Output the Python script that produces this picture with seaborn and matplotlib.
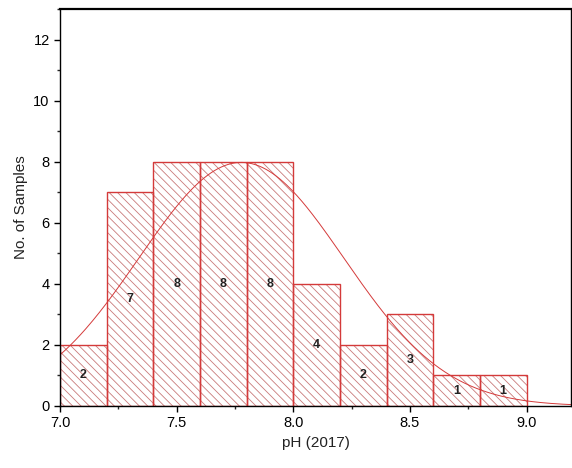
import numpy as np
import pandas as pd
import matplotlib
matplotlib.use("Agg")
import matplotlib.pyplot as plt
import seaborn as sns
from matplotlib.ticker import MultipleLocator

bin_edges = [7.0, 7.2, 7.4, 7.6, 7.8, 8.0, 8.2, 8.4, 8.6, 8.8, 9.0]
counts = [2, 7, 8, 8, 8, 4, 2, 3, 1, 1]
fit_sd = 0.44
x_label = "pH (2017)"
y_label = "No. of Samples"

sns.set_theme(style="white")
plt.rcParams['font.family'] = ['Liberation Sans', 'DejaVu Sans']
plt.rcParams['hatch.linewidth'] = 0.6

red = "#d43a3a"
hatch_col = "#c97a7a"

fig = plt.figure(figsize=(5.72, 4.68), dpi=100)
ax = fig.add_axes([0.105, 0.1325, 0.893, 0.848])

mids = [(bin_edges[i] + bin_edges[i + 1]) / 2 for i in range(len(counts))]
df = pd.DataFrame({"mid": mids, "count": counts})
# hatch layer
sns.histplot(data=df, x="mid", weights="count", bins=bin_edges, ax=ax,
             stat="count", fill=True, color="white", edgecolor=hatch_col,
             linewidth=0, alpha=1)
for p in ax.patches:
    p.set_hatch('\\\\\\\\')
    p.set_facecolor("white")
    p.set_edgecolor(hatch_col)
    p.set_linewidth(0)
# outline layer
n0 = len(ax.patches)
sns.histplot(data=df, x="mid", weights="count", bins=bin_edges, ax=ax,
             stat="count", fill=False, edgecolor=red, linewidth=1.0)
for p in ax.patches[n0:]:
    p.set_edgecolor(red)
    p.set_facecolor("none")

# normal fit from binned data
w = np.array(counts, dtype=float)
m = np.array(mids)
n = w.sum()
mu = (w * m).sum() / n
bw = bin_edges[1] - bin_edges[0]
xs = np.linspace(7.0, 9.2, 300)
ys = n * bw / (fit_sd * np.sqrt(2 * np.pi)) * np.exp(-(xs - mu) ** 2 / (2 * fit_sd ** 2))
sns.lineplot(x=xs, y=ys, ax=ax, color=red, linewidth=0.7)

for xm, c in zip(mids, counts):
    ax.text(xm, c / 2, str(c), ha="center", va="center", fontsize=9,
            fontweight="bold", color="#222222")

ax.set_xlim(7.0, 9.19)
ax.set_ylim(0, 13)
ax.xaxis.set_major_locator(MultipleLocator(0.5))
ax.xaxis.set_minor_locator(MultipleLocator(0.25))
ax.yaxis.set_major_locator(MultipleLocator(2))
ax.yaxis.set_minor_locator(MultipleLocator(1))
ax.set_xticks([7.0, 7.5, 8.0, 8.5, 9.0])
ax.set_xticklabels(["7.0", "7.5", "8.0", "8.5", "9.0"])
ax.tick_params(axis="both", which="major", direction="out", length=4, width=1,
               labelsize=10.5, colors="black", bottom=True, left=True)
ax.tick_params(axis="both", which="minor", direction="out", length=2.5, width=1,
               bottom=True, left=True)
for s in ax.spines.values():
    s.set_color("black")
    s.set_linewidth(1)
ax.spines["top"].set_linewidth(1.6)
ax.set_xlabel(x_label, fontsize=11, color="#222222")
ax.set_ylabel(y_label, fontsize=11, color="#222222")
ax.grid(False)

fig.savefig("out.png", dpi=100)
